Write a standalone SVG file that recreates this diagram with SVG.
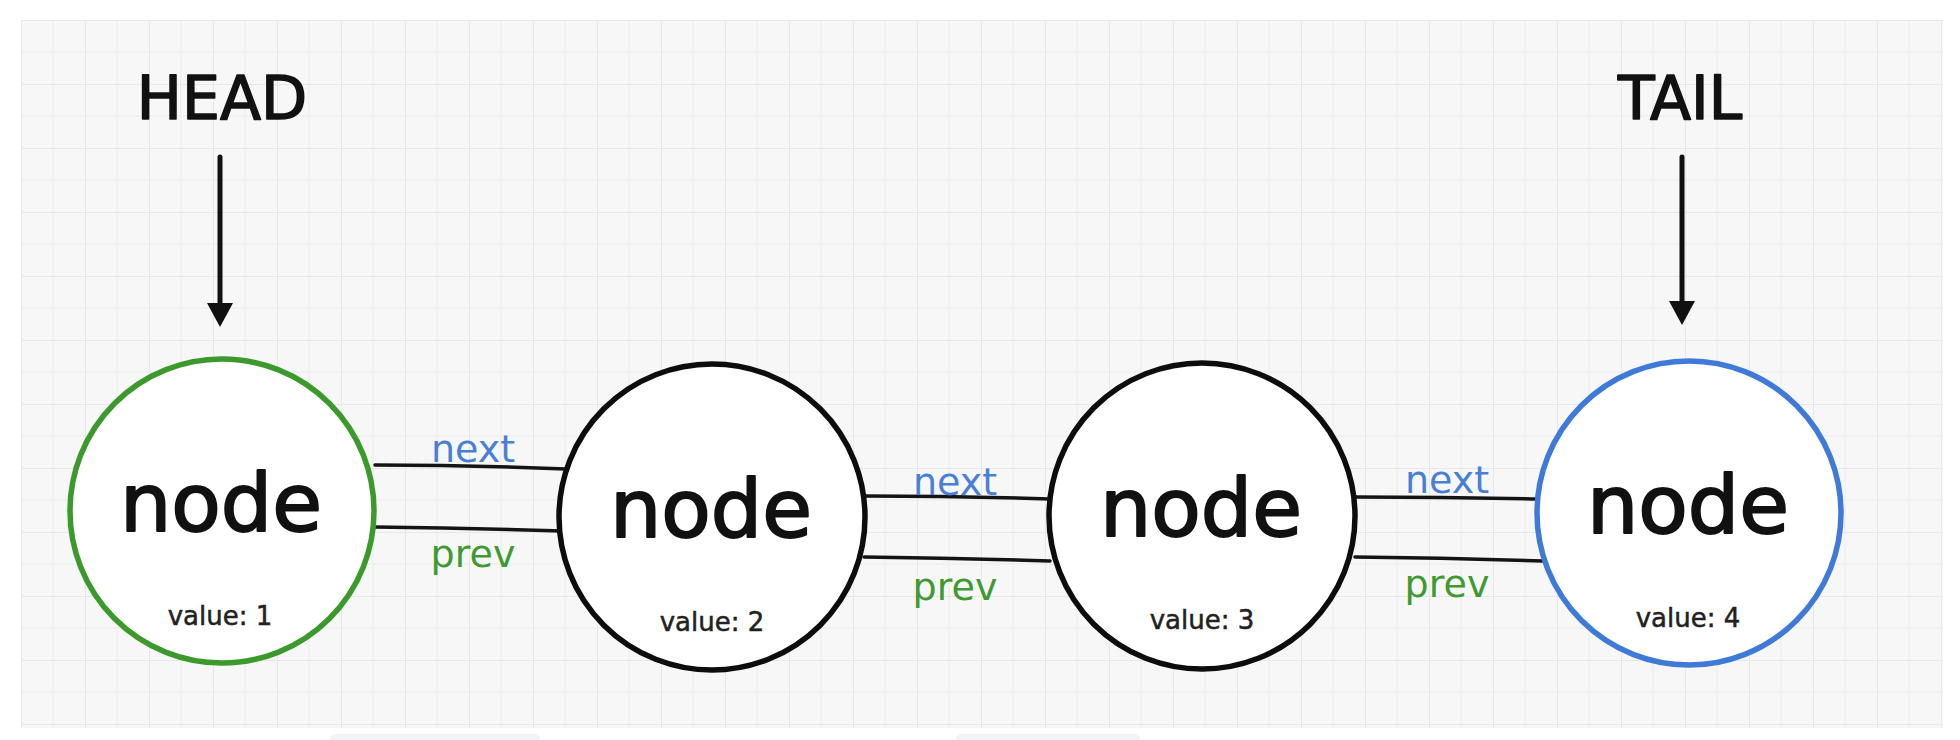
<svg xmlns="http://www.w3.org/2000/svg" width="1960" height="740" viewBox="0 0 1960 740">
  <style>
    .node-shape { fill: #ffffff; stroke-width: 5.5; }
    .node-title { font-family: "DejaVu Sans", "Liberation Sans", sans-serif; font-size: 81px; fill: #111111; stroke: #111111; stroke-width: 2; stroke-linejoin: round; text-anchor: middle; }
    .node-value { font-family: "DejaVu Sans", "Liberation Sans", sans-serif; font-size: 26px; fill: #222222; stroke: #222222; stroke-width: 0.5; text-anchor: middle; }
    .pointer-label { font-family: "DejaVu Sans", "Liberation Sans", sans-serif; font-size: 60px; fill: #111111; stroke: #111111; stroke-width: 1.6; stroke-linejoin: round; text-anchor: middle; }
    .link { fill: none; stroke: #141414; stroke-width: 3.5; stroke-linecap: round; }
    .pointer { stroke: #111111; stroke-width: 5; stroke-linecap: round; }
    .lbl { font-family: "DejaVu Sans", "Liberation Sans", sans-serif; font-size: 38px; text-anchor: middle; }
    .lbl-next { fill: #4a7fd6; }
    .lbl-prev { fill: #3f9a31; }
  </style>
  <defs>
    <pattern id="grid" x="21" y="20" width="64" height="64" patternUnits="userSpaceOnUse">
      <rect width="64" height="64" fill="#f7f7f7"/>
      <path d="M32 0 V64 M0 32 H64" stroke="#f0f0f0" stroke-width="1.5" fill="none"/>
      <path d="M0 0 V64 M0 0 H64" stroke="#e8e8e8" stroke-width="2" fill="none"/>
    </pattern>
    <marker id="arrowhead" viewBox="0 0 24 26" refX="1" refY="13" markerWidth="24" markerHeight="26" markerUnits="userSpaceOnUse" orient="auto">
      <path d="M0 0 L24 13 L0 26 Z" fill="#111111"/>
    </marker>
  </defs>

  <rect x="0" y="0" width="1960" height="740" fill="#ffffff"/>
  <rect x="21" y="20" width="1922" height="708" fill="url(#grid)"/>
  <rect x="330" y="734" width="210" height="12" rx="6" fill="#f2f3f4"/>
  <rect x="956" y="734" width="184" height="12" rx="6" fill="#f2f3f4"/>

  <g id="connectors">
    <line class="pointer" x1="220" y1="157" x2="220" y2="304" marker-end="url(#arrowhead)"/>
    <line class="pointer" x1="1682" y1="157" x2="1682" y2="302" marker-end="url(#arrowhead)"/>

    <path class="link" d="M375 465 Q470 465 566 469"/>
    <path class="link" d="M375 527 Q470 528 562 531"/>
    <text class="lbl lbl-next" x="473" y="462">next</text>
    <text class="lbl lbl-prev" x="473" y="567">prev</text>

    <path class="link" d="M864 496 Q957 496 1050 499"/>
    <path class="link" d="M864 557 Q957 558 1050 561"/>
    <text class="lbl lbl-next" x="955" y="495">next</text>
    <text class="lbl lbl-prev" x="955" y="600">prev</text>

    <path class="link" d="M1355 497 Q1448 497 1540 499"/>
    <path class="link" d="M1355 557 Q1449 558 1543 561"/>
    <text class="lbl lbl-next" x="1447" y="493">next</text>
    <text class="lbl lbl-prev" x="1447" y="597">prev</text>
  </g>

  <g id="head-label">
    <text class="pointer-label" x="222" y="119">HEAD</text>
  </g>
  <g id="tail-label">
    <text class="pointer-label" x="1680" y="119">TAIL</text>
  </g>

  <g id="node1">
    <circle class="node-shape" cx="222" cy="511" r="152" stroke="#3c9a2c"/>
    <text class="node-title" x="221" y="531">node</text>
    <text class="node-value" x="220" y="625">value: 1</text>
  </g>
  <g id="node2">
    <circle class="node-shape" cx="712" cy="517" r="153" stroke="#0d0d0d"/>
    <text class="node-title" x="711" y="537">node</text>
    <text class="node-value" x="712" y="631">value: 2</text>
  </g>
  <g id="node3">
    <circle class="node-shape" cx="1202" cy="516" r="153" stroke="#0d0d0d"/>
    <text class="node-title" x="1201" y="536">node</text>
    <text class="node-value" x="1202" y="629">value: 3</text>
  </g>
  <g id="node4">
    <circle class="node-shape" cx="1689" cy="513" r="152" stroke="#3f7ad8"/>
    <text class="node-title" x="1688" y="533">node</text>
    <text class="node-value" x="1688" y="627">value: 4</text>
  </g>
</svg>
